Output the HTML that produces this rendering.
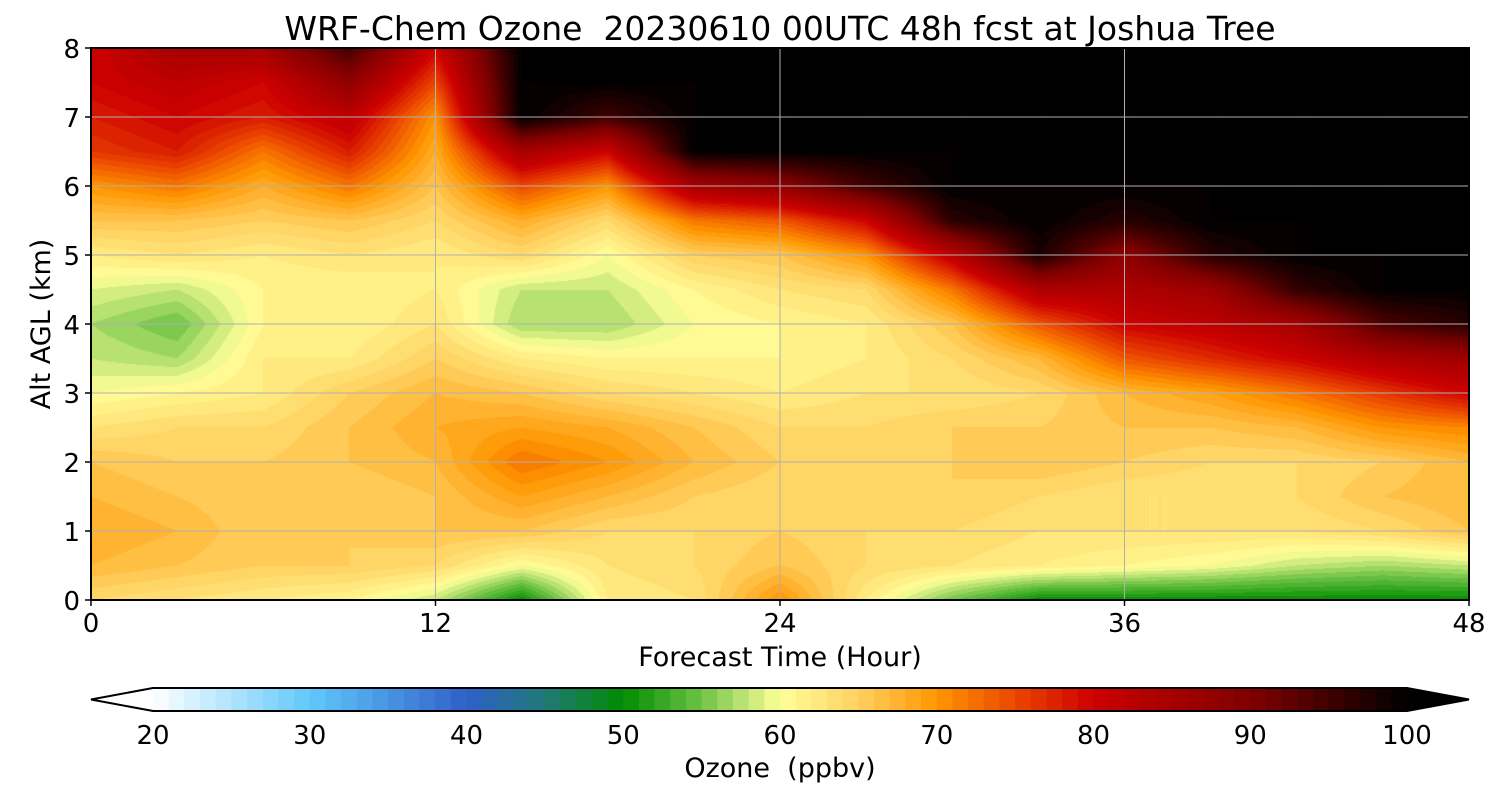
<!DOCTYPE html>
<html><head><meta charset="utf-8">
<style>
html,body{margin:0;padding:0;background:#fff;}
#wrap{position:relative;width:1500px;height:800px;font-family:"DejaVu Sans","Liberation Sans",sans-serif;}
canvas{position:absolute;left:0;top:0;}
svg{position:absolute;left:0;top:0;font-family:"DejaVu Sans","Liberation Sans",sans-serif;}
text{white-space:pre;}
</style></head>
<body>
<div id="wrap">
<canvas id="cv" width="1500" height="800"></canvas>
<svg id="sv" width="1500" height="800"></svg>
</div>
<script>
const times=[0,3,6,9,12,15,18,21,24,27,30,33,36,39,42,45,48];
const alts=[0,0.5,1,1.5,2,2.5,3,3.5,4,4.5,5,5.5,6,6.5,7,7.5,8];
const ozone=[
[64,63,62,61,58,50,62,63,70,62,55,50,50,50,50,50,50],
[67,66,65,65,64,60,63,64,66,64,63,62,61,60,58,57,58],
[68,67,65,65,66,66,64,64,65,64,64,63,63,63,63,64,66],
[67,66,65,65,66,69,67,65,64,64,65,64,63,63,64,66,67],
[66,65,65,66,67,72,70,67,65,64,65,66,65,64,64,65,67],
[63,64,64,66,68,69,68,66,64,64,65,65,66,66,67,70,71],
[60,61,62,65,67,66,64,63,62,63,63,64,67,69,72,76,80],
[58,57,62,62,65,62,61,61,61,62,64,67,74,77,80,84,86],
[57,55,61,61,63,57,57,60,61,62,66,74,80,82,85,94,97],
[59,58,61,61,62,58,58,61,63,64,72,84,84,86,96,100,100],
[62,63,62,63,62,64,60,65,66,70,82,98,88,97,100,100,100],
[66,66,65,66,64,68,64,72,74,80,97,100,97,100,100,100,100],
[70,72,68,72,66,75,70,85,88,95,100,100,100,100,100,100,100],
[76,78,72,78,68,85,80,100,100,100,100,100,100,100,100,100,100],
[78,80,78,82,70,100,95,100,100,100,100,100,100,100,100,100,100],
[80,82,80,88,75,100,100,100,100,100,100,100,100,100,100,100,100],
[80,85,85,95,80,100,100,100,100,100,100,100,100,100,100,100,100]
];
const xTicks=[0,12,24,36,48];
const yTicks=[0,1,2,3,4,5,6,7,8];
const cbTicks=[20,30,40,50,60,70,80,90,100];

const PX0=91,PX1=1469,PY0=600,PY1=48;
const xs=t=>PX0+(t-0)/48*(PX1-PX0);
const ys=a=>PY0-(a-0)/8*(PY0-PY1);
const CB0=153,CB1=1407,CBY=688,CBH=23;
const cbx=v=>CB0+(v-20)/80*(CB1-CB0);

const stops=[[20,[255,255,255]],[30,[96,200,250]],[40,[48,96,200]],[45,[32,120,120]],[50,[0,140,0]],[55,[110,195,70]],[60,[255,255,153]],[65,[255,208,96]],[70,[255,150,0]],[75,[235,70,0]],[80,[204,0,0]],[90,[128,0,0]],[100,[0,0,0]]];
function cmap(v){
  if(v<=20)return stops[0][1]; if(v>=100)return [0,0,0];
  for(let i=0;i<stops.length-1;i++){const a=stops[i],b=stops[i+1];
    if(v>=a[0]&&v<=b[0]){const f=(v-a[0])/(b[0]-a[0]);return a[1].map((c,k)=>Math.round(c+(b[1][k]-c)*f));}}
  return [0,0,0];
}
const ctx=document.getElementById('cv').getContext('2d');
const W=PX1-PX0,H=PY0-PY1;
const img=ctx.createImageData(W,H);
function val(t,a){
  let i=0;while(i<times.length-2&&t>times[i+1])i++;
  let j=0;while(j<alts.length-2&&a>alts[j+1])j++;
  const ft=Math.min(1,Math.max(0,(t-times[i])/(times[i+1]-times[i])));
  const fa=Math.min(1,Math.max(0,(a-alts[j])/(alts[j+1]-alts[j])));
  const v00=ozone[j][i],v10=ozone[j][i+1],v01=ozone[j+1][i],v11=ozone[j+1][i+1];
  return (v00*(1-ft)+v10*ft)*(1-fa)+(v01*(1-ft)+v11*ft)*fa;
}
for(let py=0;py<H;py++){const a=(PY0-(PY1+py+0.5))/(PY0-PY1)*8;
  for(let px=0;px<W;px++){const t=(px+0.5)/W*48;
    let v=val(t,a); v=Math.floor(v)+0.5; const c=cmap(v);
    const k=(py*W+px)*4; img.data[k]=c[0];img.data[k+1]=c[1];img.data[k+2]=c[2];img.data[k+3]=255;}}
ctx.putImageData(img,PX0,PY1);

const NS='http://www.w3.org/2000/svg';
const sv=document.getElementById('sv');
function mk(tag,attrs,txt){const e=document.createElementNS(NS,tag);for(const k in attrs)e.setAttribute(k,attrs[k]);if(txt!==undefined)e.textContent=txt;sv.appendChild(e);return e;}
xTicks.forEach(t=>{const l=mk('line',{x1:xs(t),x2:xs(t),y1:PY1,y2:PY0,stroke:'#b0b0b0','stroke-width':1});

});
yTicks.forEach(a=>{const l=mk('line',{x1:PX0,x2:PX1,y1:ys(a),y2:ys(a),stroke:'#b0b0b0','stroke-width':1});

});
const fr=mk('rect',{x:PX0,y:PY1,width:W,height:H,fill:'none',stroke:'#000','stroke-width':2});


xTicks.forEach(t=>{mk('line',{x1:xs(t),x2:xs(t),y1:PY0,y2:PY0+6,stroke:'#000','stroke-width':1.5});
const e=mk('text',{x:xs(t),y:632,'text-anchor':'middle','font-size':26},String(t));

});
yTicks.forEach(a=>{mk('line',{x1:PX0-6,x2:PX0,y1:ys(a),y2:ys(a),stroke:'#000','stroke-width':1.5});
const e=mk('text',{x:80,y:ys(a)+10,'text-anchor':'end','font-size':26},String(a));

});
let e=mk('text',{x:780,y:40,'text-anchor':'middle','font-size':33},'WRF-Chem Ozone  20230610 00UTC 48h fcst at Joshua Tree');


e=mk('text',{x:780,y:666,'text-anchor':'middle','font-size':27},'Forecast Time (Hour)');


e=mk('text',{x:50,y:324,'text-anchor':'middle','font-size':27,transform:'rotate(-90 50 324)'},'Alt AGL (km)');


for(let v=20;v<100;v++){const c=cmap(v+0.5);
const r=mk('rect',{x:cbx(v),y:CBY,width:cbx(v+1)-cbx(v)+0.6,height:CBH,fill:`rgb(${c})`});

}
e=mk('polygon',{points:`${CB0},${CBY} 91,${CBY+CBH/2} ${CB0},${CBY+CBH}`,fill:'#fff'});


e=mk('polygon',{points:`${CB1},${CBY} 1469,${CBY+CBH/2} ${CB1},${CBY+CBH}`,fill:'#000'});


e=mk('polygon',{points:`${CB0},${CBY} 91,${CBY+CBH/2} ${CB0},${CBY+CBH} ${CB1},${CBY+CBH} 1469,${CBY+CBH/2} ${CB1},${CBY}`,fill:'none',stroke:'#000','stroke-width':2});


cbTicks.forEach(v=>{const t=mk('text',{x:cbx(v),y:744,'text-anchor':'middle','font-size':26},String(v));

});
e=mk('text',{x:780,y:777,'text-anchor':'middle','font-size':27},'Ozone  (ppbv)');


</script>
</body></html>
